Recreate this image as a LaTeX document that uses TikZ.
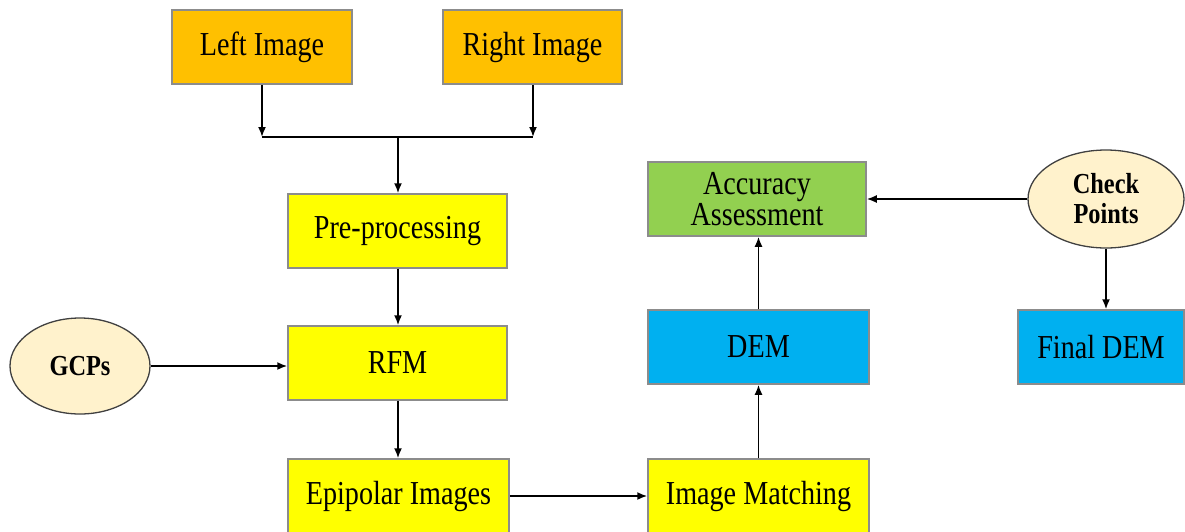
\documentclass[tikz,border=0pt]{standalone}
\usepackage{fontspec}
\setmainfont[FakeStretch=0.84]{Liberation Serif}
\usetikzlibrary{arrows.meta,shapes.geometric}
\definecolor{orangeC}{HTML}{FFC000}
\definecolor{yellowC}{HTML}{FFFF00}
\definecolor{greenC}{HTML}{92D050}
\definecolor{blueC}{HTML}{00B0F0}
\definecolor{creamC}{HTML}{FFF2CC}
\definecolor{borderC}{HTML}{8C8C8C}
\tikzset{
  boxbase/.style={draw=borderC, line width=1.5pt, rectangle, inner sep=0pt, align=center,
    font=\fontsize{33.5}{31}\selectfont},
  orangebox/.style={boxbase, fill=orangeC},
  yellowbox/.style={boxbase, fill=yellowC},
  greenbox/.style={boxbase, fill=greenC},
  bluebox/.style={boxbase, fill=blueC},
  ellnode/.style={draw=black!75, line width=1.3pt, ellipse, fill=creamC, inner sep=0pt, align=center,
    font=\bfseries\fontsize{29}{30}\selectfont},
  conn/.style={line width=1.7pt, -{Latex[length=10pt,width=8pt]}},
  plain/.style={line width=1.7pt}
}
\begin{document}
\begin{tikzpicture}[x=1pt,y=-1pt]
\useasboundingbox (0,0) rectangle (1185,531);
\node[orangebox, minimum width=180pt, minimum height=74pt] (left) at (262,47) {Left Image};
\node[orangebox, minimum width=179pt, minimum height=74pt] (right) at (532.5,47) {Right Image};
\node[yellowbox, minimum width=219pt, minimum height=74pt] (pre) at (397.5,231) {Pre-processing};
\node[yellowbox, minimum width=219pt, minimum height=74pt] (rfm) at (397.5,363) {RFM};
\node[yellowbox, minimum width=221pt, minimum height=74pt] (epi) at (398.5,496) {Epipolar Images};
\node[yellowbox, minimum width=221pt, minimum height=74pt] (im) at (758.5,496) {Image Matching};
\node[bluebox, minimum width=221pt, minimum height=74pt] (dem) at (758.5,347) {DEM};
\node[greenbox, minimum width=218pt, minimum height=74pt] (aa) at (757,199) {Accuracy\\Assessment};
\node[bluebox, minimum width=166pt, minimum height=74pt] (fdem) at (1101,347) {Final DEM};
\node[ellnode, minimum width=140pt, minimum height=96pt] (gcp) at (80,366) {GCPs};
\node[ellnode, minimum width=156pt, minimum height=98pt] (check) at (1106,199) {Check\\Points};
\coordinate (jl) at (262,137);
\coordinate (jr) at (533,137);
\coordinate (jm) at (398,137);
\draw[conn] (left.south) -- (jl);
\draw[conn] (right.south -| jr) -- (jr);
\draw[plain] (jl) -- (jr);
\draw[conn] (jm) -- (pre.north -| jm);
\draw[conn] (pre.south -| jm) -- (rfm.north -| jm);
\draw[conn] (rfm.south -| jm) -- (epi.north -| jm);
\draw[conn] (gcp.east) -- (gcp.east -| rfm.west);
\draw[conn] (epi.east) -- (im.west);
\draw[conn] (im.north) -- (dem.south);
\draw[conn] (dem.north) -- (aa.south -| dem.north);
\draw[conn] (check.west) -- (aa.east);
\draw[conn] (check.south) -- (check.south |- fdem.north);
\end{tikzpicture}
\end{document}
